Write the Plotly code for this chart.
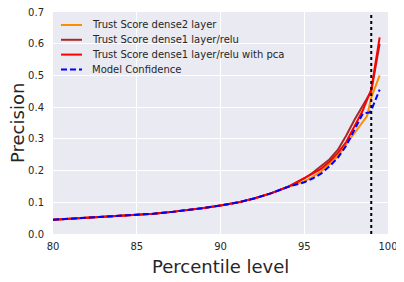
import plotly.graph_objects as go

# Percentile levels
x_base = [80, 81, 82, 83, 84, 85, 86, 87, 88, 89, 90, 91, 92, 93, 94]
y_base = [0.045, 0.048, 0.051, 0.054, 0.057, 0.060, 0.064, 0.069, 0.075, 0.082,
          0.090, 0.099, 0.112, 0.128, 0.148]

x_dense2 = x_base + [95, 95.5, 96, 96.5, 97, 97.5, 98, 98.5, 98.75, 99, 99.5]
y_dense2 = y_base + [0.166, 0.180, 0.197, 0.220, 0.245, 0.283, 0.320, 0.355, 0.372, 0.430, 0.500]

x_dense1 = x_base + [95, 95.5, 96, 96.5, 97, 97.5, 98, 98.5, 98.7, 99, 99.5]
y_dense1 = y_base + [0.175, 0.193, 0.213, 0.235, 0.265, 0.310, 0.360, 0.405, 0.425, 0.450, 0.600]

x_pca = x_base + [95, 95.5, 96, 96.5, 97, 97.5, 98, 98.5, 98.8, 99, 99.5]
y_pca = y_base + [0.175, 0.190, 0.205, 0.228, 0.255, 0.290, 0.340, 0.390, 0.430, 0.455, 0.620]

x_conf = x_base + [95, 95.5, 96, 96.5, 97, 97.5, 98, 98.5, 98.9, 99, 99.5]
y_conf = y_base + [0.163, 0.175, 0.190, 0.213, 0.240, 0.278, 0.330, 0.380, 0.383, 0.390, 0.455]

cutoff = 99.0

names = ["Trust Score dense2 layer", "Trust Score dense1 layer/relu",
         "Trust Score dense1 layer/relu with pca", "Model Confidence"]
colors = ["#FF8C00", "#A52A2A", "#FF0000", "#0000FF"]
dashes = ["solid", "solid", "solid", "6px,3px"]
x_title = "Percentile level"
y_title = "Precision"

# page body has an 8px default margin, so the figure is sized to fit the window
W, H = 396, 274
ML, MR, MT, MB = 45, 16, 4, 48
PW, PH = W - ML - MR, H - MT - MB

fig = go.Figure()
series = [(x_dense2, y_dense2), (x_dense1, y_dense1), (x_pca, y_pca), (x_conf, y_conf)]
for (xs, ys), nm, c, d in zip(series, names, colors, dashes):
    fig.add_trace(go.Scatter(x=xs, y=ys, mode="lines", name=nm, showlegend=False,
                             line=dict(color=c, width=2, dash=d)))

fig.add_shape(type="line", xref="x", yref="paper", x0=cutoff, x1=cutoff, y0=0, y1=1,
              line=dict(color="black", width=2, dash="dot"))

def px_to_paper_x(px):
    return (px - ML) / PW

def px_to_paper_y(py):
    return (H - MB - py) / PH

# Legend drawn as shapes + annotations (compact row spacing like matplotlib)
row0, row_gap = 17, 14.8
for i, (nm, c, d) in enumerate(zip(names, colors, dashes)):
    yy = px_to_paper_y(row0 + i * row_gap)
    fig.add_shape(type="line", xref="paper", yref="paper",
                  x0=px_to_paper_x(ML + 8), x1=px_to_paper_x(ML + 29), y0=yy, y1=yy,
                  line=dict(color=c, width=2, dash=d))
    fig.add_annotation(xref="paper", yref="paper", x=px_to_paper_x(ML + 37), y=yy,
                       text=nm, showarrow=False, xanchor="left", yanchor="middle",
                       font=dict(size=10, color="#262626"))

# Axis titles
fig.add_annotation(xref="paper", yref="paper", x=0.5, y=px_to_paper_y(258),
                   text=x_title, showarrow=False, xanchor="center", yanchor="middle",
                   font=dict(size=18, color="#262626"))
fig.add_annotation(xref="paper", yref="paper", x=px_to_paper_x(9), y=0.5,
                   text=y_title, showarrow=False, xanchor="center", yanchor="middle",
                   textangle=-90, borderpad=0, font=dict(size=18, color="#262626"))

fig.update_layout(
    width=W, height=H,
    margin=dict(l=ML, r=MR, t=MT, b=MB),
    paper_bgcolor="white",
    plot_bgcolor="#EAEAF2",
    font=dict(family="DejaVu Sans", color="#262626", size=10),
    showlegend=False,
)
fig.update_xaxes(range=[80, 100], tickvals=[80, 85, 90, 95, 100],
                 showgrid=True, gridcolor="white", gridwidth=1, zeroline=False,
                 showline=False, ticks="outside", ticklen=3, tickcolor="rgba(0,0,0,0)",
                 automargin=False, ticklabeloverflow="allow")
fig.update_yaxes(range=[0, 0.7], tickvals=[0, 0.1, 0.2, 0.3, 0.4, 0.5, 0.6, 0.7],
                 tickformat=".1f",
                 showgrid=True, gridcolor="white", gridwidth=1, zeroline=False,
                 showline=False, ticks="outside", ticklen=6, tickcolor="rgba(0,0,0,0)",
                 automargin=False, ticklabeloverflow="allow")

fig.write_html("out.html")
